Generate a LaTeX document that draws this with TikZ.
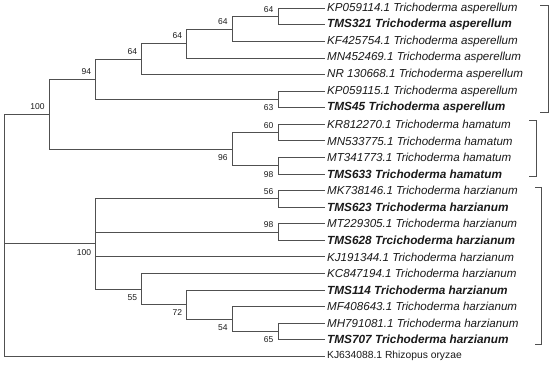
\documentclass[tikz,border=0pt]{standalone}
\usepackage{fontspec}
\setmainfont{Liberation Sans}
\usepackage{xcolor}
\usepackage{tikz}
\definecolor{gris}{HTML}{505050}
\definecolor{texto}{HTML}{1A1A1A}
\tikzset{
  rama/.style={draw=gris,line width=0.8pt},
  llave/.style={draw=gris,line width=0.8pt},
  hoja/.style={anchor=west,inner sep=2pt,text=texto,font=\fontsize{11.6}{13}\selectfont\itshape},
  hojanegrita/.style={hoja,font=\fontsize{11.8}{13}\selectfont\bfseries\itshape},
  hojarecta/.style={hoja,font=\fontsize{10.3}{12}\selectfont},
  soporte/.style={anchor=base east,inner sep=0pt,text=texto,font=\fontsize{8.5}{10}\selectfont},
  soparriba/.style={soporte,xshift=-4.5pt,yshift=4.5pt},
  sopabajo/.style={soporte,xshift=-4.5pt,yshift=-11.5pt},
}
\begin{document}
\begin{tikzpicture}[x=1pt,y=-1pt]
  \useasboundingbox (0,0) rectangle (550,366);
  % hojas
  \node[hoja] (l0) at (325,8.3) {KP059114.1 Trichoderma asperellum};
  \node[hojanegrita] (l1) at (325,24.9) {TMS321 Trichoderma asperellum};
  \node[hoja] (l2) at (325,41.4) {KF425754.1 Trichoderma asperellum};
  \node[hoja] (l3) at (325,58.0) {MN452469.1 Trichoderma asperellum};
  \node[hoja] (l4) at (325,74.6) {NR 130668.1 Trichoderma asperellum};
  \node[hoja] (l5) at (325,91.2) {KP059115.1 Trichoderma asperellum};
  \node[hojanegrita] (l6) at (325,107.7) {TMS45 Trichoderma asperellum};
  \node[hoja] (l7) at (325,124.3) {KR812270.1 Trichoderma hamatum};
  \node[hoja] (l8) at (325,140.9) {MN533775.1 Trichoderma hamatum};
  \node[hoja] (l9) at (325,157.4) {MT341773.1 Trichoderma hamatum};
  \node[hojanegrita] (l10) at (325,174.0) {TMS633 Trichoderma hamatum};
  \node[hoja] (l11) at (325,190.6) {MK738146.1 Trichoderma harzianum};
  \node[hojanegrita] (l12) at (325,207.1) {TMS623 Trichoderma harzianum};
  \node[hoja] (l13) at (325,223.7) {MT229305.1 Trichoderma harzianum};
  \node[hojanegrita] (l14) at (325,240.3) {TMS628 Trcichoderma harzianum};
  \node[hoja] (l15) at (325,256.9) {KJ191344.1 Trichoderma harzianum};
  \node[hoja] (l16) at (325,273.4) {KC847194.1 Trichoderma harzianum};
  \node[hojanegrita] (l17) at (325,290.0) {TMS114 Trichoderma harzianum};
  \node[hoja] (l18) at (325,306.6) {MF408643.1 Trichoderma harzianum};
  \node[hoja] (l19) at (325,323.1) {MH791081.1 Trichoderma harzianum};
  \node[hojanegrita] (l20) at (325,339.7) {TMS707 Trichoderma harzianum};
  \node[hojarecta] (l21) at (325,356.3) {KJ634088.1 Rhizopus oryzae};
  % nodos internos
  \coordinate (F) at (278,16.6);
  \coordinate (E) at (232.3,29.0);
  \coordinate (D) at (186.7,43.5);
  \coordinate (C) at (141.7,59.05);
  \coordinate (P) at (278,99.45);
  \coordinate (B) at (95.7,79.25);
  \coordinate (H1) at (278,132.6);
  \coordinate (H2) at (278,165.7);
  \coordinate (H) at (232.3,149.15);
  \coordinate (A) at (49.3,114.2);
  \coordinate (Hz1) at (278,198.85);
  \coordinate (Hz2) at (278,232.0);
  \coordinate (U) at (278,331.4);
  \coordinate (T) at (232.3,319.0);
  \coordinate (S) at (186.7,304.5);
  \coordinate (Q) at (141.7,288.95);
  \coordinate (Hz) at (95.7,243.9);
  \coordinate (R) at (4,235.25);
  % ramas
  \draw[rama] (F) |- (l0.west); \draw[rama] (F) |- (l1.west);
  \draw[rama] (E) |- (F); \draw[rama] (E) |- (l2.west);
  \draw[rama] (D) |- (E); \draw[rama] (D) |- (l3.west);
  \draw[rama] (C) |- (D); \draw[rama] (C) |- (l4.west);
  \draw[rama] (P) |- (l5.west); \draw[rama] (P) |- (l6.west);
  \draw[rama] (B) |- (C); \draw[rama] (B) |- (P);
  \draw[rama] (H1) |- (l7.west); \draw[rama] (H1) |- (l8.west);
  \draw[rama] (H2) |- (l9.west); \draw[rama] (H2) |- (l10.west);
  \draw[rama] (H) |- (H1); \draw[rama] (H) |- (H2);
  \draw[rama] (A) |- (B); \draw[rama] (A) |- (H);
  \draw[rama] (Hz1) |- (l11.west); \draw[rama] (Hz1) |- (l12.west);
  \draw[rama] (Hz2) |- (l13.west); \draw[rama] (Hz2) |- (l14.west);
  \draw[rama] (U) |- (l19.west); \draw[rama] (U) |- (l20.west);
  \draw[rama] (T) |- (l18.west); \draw[rama] (T) |- (U);
  \draw[rama] (S) |- (l17.west); \draw[rama] (S) |- (T);
  \draw[rama] (Q) |- (l16.west); \draw[rama] (Q) |- (S);
  \draw[rama] (Hz) |- (Hz1); \draw[rama] (Hz) |- (Hz2);
  \draw[rama] (Hz) |- (l15.west); \draw[rama] (Hz) |- (Q);
  \draw[rama] (R) |- (A); \draw[rama] (R) |- (Hz); \draw[rama] (R) |- (l21.west);
  % soportes
  \node[soparriba] (sF) at (F) {64};
  \node[soparriba] (sE) at (E) {64};
  \node[soparriba] (sD) at (D) {64};
  \node[soparriba] (sC) at (C) {64};
  \node[soparriba] (sB) at (B) {94};
  \node[soparriba] (sA) at (A) {100};
  \node[sopabajo] (sP) at (P) {63};
  \node[sopabajo] (sH) at (H) {96};
  \node[soparriba] (sH1) at (H1) {60};
  \node[sopabajo] (sH2) at (H2) {98};
  \node[sopabajo] (sHz) at (Hz) {100};
  \node[soparriba] (sHz1) at (Hz1) {56};
  \node[soparriba] (sHz2) at (Hz2) {98};
  \node[sopabajo] (sQ) at (Q) {55};
  \node[sopabajo] (sS) at (S) {72};
  \node[sopabajo] (sT) at (T) {54};
  \node[sopabajo] (sU) at (U) {65};
  % llaves
  \draw[llave] (540,5) -- (548.3,5) -- (548.3,112.7) -- (540,112.7);
  \draw[llave] (529,120.7) -- (536,120.7) -- (536,176.7) -- (529,176.7);
  \draw[llave] (535,187.3) -- (541.7,187.3) -- (541.7,344) -- (535,344);
\end{tikzpicture}
\end{document}
